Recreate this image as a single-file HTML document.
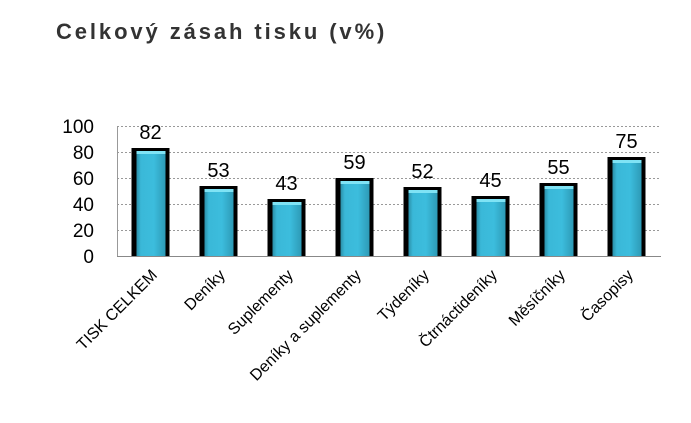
<!DOCTYPE html>
<html><head><meta charset="utf-8"><style>
body{margin:0;background:#fff;width:691px;height:418px;overflow:hidden}
</style></head><body>
<svg width="691" height="418" xmlns="http://www.w3.org/2000/svg">
<defs>
<linearGradient id="g" x1="0" y1="0" x2="1" y2="0">
<stop offset="0" stop-color="#2a8fa8"/><stop offset="0.15" stop-color="#3ab8d8"/><stop offset="0.6" stop-color="#3cbddd"/><stop offset="1" stop-color="#2d9ab6"/>
</linearGradient>
</defs>
<text x="56" y="39" font-family="Liberation Sans, sans-serif" font-weight="bold" font-size="22" fill="#333" letter-spacing="2.9">Celkový zásah tisku (v%)</text>
<g stroke="#999" stroke-dasharray="2,2" stroke-width="1">
<line x1="117" y1="126.5" x2="661" y2="126.5"/>
<line x1="117" y1="152.5" x2="661" y2="152.5"/>
<line x1="117" y1="178.5" x2="661" y2="178.5"/>
<line x1="117" y1="204.5" x2="661" y2="204.5"/>
<line x1="117" y1="230.5" x2="661" y2="230.5"/>
</g>
<line x1="117.5" y1="126" x2="117.5" y2="256" stroke="#999"/>
<line x1="117" y1="256.5" x2="661" y2="256.5" stroke="#888"/>
<g font-family="Liberation Sans, sans-serif" font-size="19" fill="#000" text-anchor="end">
<text x="94" y="133">100</text><text x="94" y="159">80</text><text x="94" y="185">60</text><text x="94" y="211">40</text><text x="94" y="237">20</text><text x="94" y="263">0</text>
</g>

<g transform="translate(131.5,148)"><rect width="38" height="108" fill="#000"/><rect x="5" y="3" width="29" height="105" fill="url(#g)"/><rect x="5" y="3" width="29" height="3" fill="#7fe3f5"/></g>
<g transform="translate(199.5,186)"><rect width="38" height="70" fill="#000"/><rect x="5" y="3" width="29" height="67" fill="url(#g)"/><rect x="5" y="3" width="29" height="3" fill="#7fe3f5"/></g>
<g transform="translate(267.5,199)"><rect width="38" height="57" fill="#000"/><rect x="5" y="3" width="29" height="54" fill="url(#g)"/><rect x="5" y="3" width="29" height="3" fill="#7fe3f5"/></g>
<g transform="translate(335.5,178)"><rect width="38" height="78" fill="#000"/><rect x="5" y="3" width="29" height="75" fill="url(#g)"/><rect x="5" y="3" width="29" height="3" fill="#7fe3f5"/></g>
<g transform="translate(403.5,187)"><rect width="38" height="69" fill="#000"/><rect x="5" y="3" width="29" height="66" fill="url(#g)"/><rect x="5" y="3" width="29" height="3" fill="#7fe3f5"/></g>
<g transform="translate(471.5,196)"><rect width="38" height="60" fill="#000"/><rect x="5" y="3" width="29" height="57" fill="url(#g)"/><rect x="5" y="3" width="29" height="3" fill="#7fe3f5"/></g>
<g transform="translate(539.5,183)"><rect width="38" height="73" fill="#000"/><rect x="5" y="3" width="29" height="70" fill="url(#g)"/><rect x="5" y="3" width="29" height="3" fill="#7fe3f5"/></g>
<g transform="translate(607.5,157)"><rect width="38" height="99" fill="#000"/><rect x="5" y="3" width="29" height="96" fill="url(#g)"/><rect x="5" y="3" width="29" height="3" fill="#7fe3f5"/></g>

<g font-family="Liberation Sans, sans-serif" font-size="20" fill="#000" text-anchor="middle">
<text x="150.5" y="139">82</text>
<text x="218.5" y="177">53</text>
<text x="286.5" y="190">43</text>
<text x="354.5" y="169">59</text>
<text x="422.5" y="178">52</text>
<text x="490.5" y="187">45</text>
<text x="558.5" y="174">55</text>
<text x="626.5" y="148">75</text>
</g>
<g font-family="Liberation Sans, sans-serif" font-size="16" fill="#000" text-anchor="end">
<text transform="translate(158,276) rotate(-45)">TISK CELKEM</text>
<text transform="translate(226,276) rotate(-45)">Deníky</text>
<text transform="translate(294,276) rotate(-45)">Suplementy</text>
<text transform="translate(362,276) rotate(-45)">Deníky a suplementy</text>
<text transform="translate(430,276) rotate(-45)">Týdeníky</text>
<text transform="translate(498,276) rotate(-45)">Čtrnáctideníky</text>
<text transform="translate(566,276) rotate(-45)">Měsíčníky</text>
<text transform="translate(634,276) rotate(-45)">Časopisy</text>
</g>
</svg>
</body></html>
